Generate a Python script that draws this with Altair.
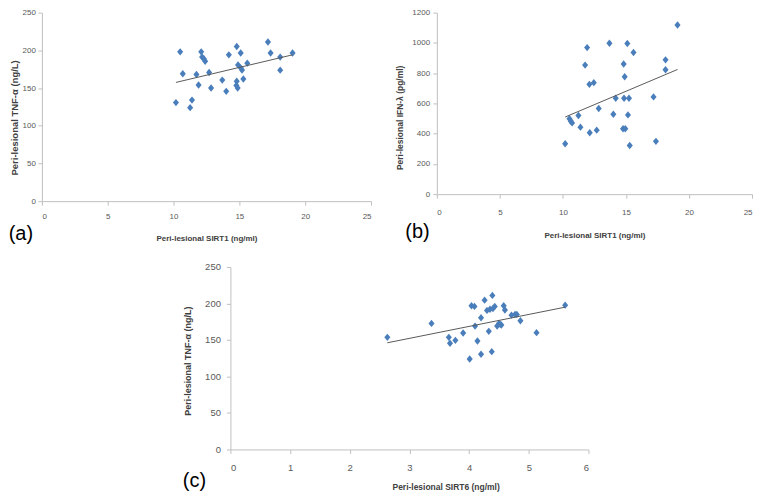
import altair as alt
import pandas as pd

# ---- data ----
sirt1_a = [10.18, 10.5, 10.7, 11.26, 11.4, 11.74, 11.9, 12.1, 12.17, 12.3, 12.4, 12.7, 12.85,
           13.7, 14.0, 14.2, 14.8, 14.8, 14.77, 14.87, 14.9, 15.1, 15.1, 15.2, 15.3, 15.6,
           17.17, 17.37, 18.1, 18.1, 19.04]
tnf_a = [130.7, 198, 169, 124, 134, 168, 154, 198, 191, 189, 185.5, 170.6, 150,
         160.5, 145.6, 194, 205, 159, 153.5, 150, 180.7, 196.5, 176.8, 174, 162, 183,
         211, 196.5, 191, 173.7, 196.5]

sirt1_b = [10.18, 10.52, 10.63, 10.73, 11.23, 11.39, 11.76, 11.92, 12.1, 12.13, 12.45, 12.68,
           12.84, 13.69, 14.0, 14.19, 14.77, 14.82, 14.85, 14.9, 14.95, 15.11, 15.16, 15.24,
           15.3, 15.6, 17.19, 17.38, 18.14, 18.14, 19.09]
ifn_b = [333, 498, 482, 471, 520, 443, 853, 969, 726, 406, 737, 423,
         566, 998, 528, 634, 432, 860, 634, 776, 432, 996, 524, 634,
         322, 936, 643, 349, 888, 822, 1118]

sirt6_c = [2.63, 3.37, 3.66, 3.68, 3.77, 3.90, 4.01, 4.04, 4.09, 4.10, 4.14, 4.20, 4.20,
           4.26, 4.30, 4.33, 4.35, 4.38, 4.39, 4.40, 4.43, 4.47, 4.50, 4.52, 4.54, 4.58,
           4.60, 4.71, 4.77, 4.80, 4.86, 5.13, 5.61]
tnf_c = [153.6, 172.7, 153.6, 145.5, 149.5, 159.5, 124, 196.8, 196, 169, 148.6, 130.5, 180.5,
         204.5, 190.5, 161.8, 192, 134, 211, 193, 196, 169, 172.7, 171.4, 170.5, 196.8,
         191, 184, 185, 185, 176.4, 160, 197.7]

x_ticks_ab = [0, 5, 10, 15, 20, 25]
x_ticks_c = [0, 1, 2, 3, 4, 5, 6]
y_ticks_tnf = [0, 50, 100, 150, 200, 250]
y_ticks_ifn = [0, 200, 400, 600, 800, 1000, 1200]

FONT = "Liberation Sans"
DIAMOND = "M-0.82,0L0,-1L0.82,0L0,1Z"
BLUE = "#4a7ebb"


def panel(xs, ys, xdom, xticks, ydom, yticks, w, h, xtitle, ytitle, tag, tag_x, tag_y,
          x_lpad, x_tpad, y_lpad, y_tpad, y_title_y, label_size, xt_size, yt_size,
          x_title_x=None):
    df = pd.DataFrame({"x": xs, "y": ys})
    xaxis_kw = dict(values=xticks, title=xtitle, labelPadding=x_lpad, titlePadding=x_tpad,
                    format="d", labelOverlap=False, labelFontSize=label_size,
                    titleFontSize=xt_size)
    if x_title_x is not None:
        xaxis_kw["titleX"] = x_title_x
    xenc = alt.X("x:Q", scale=alt.Scale(domain=xdom, nice=False, zero=False),
                 axis=alt.Axis(**xaxis_kw))
    yenc = alt.Y("y:Q", scale=alt.Scale(domain=ydom, nice=False, zero=False),
                 axis=alt.Axis(values=yticks, title=ytitle, labelPadding=y_lpad,
                               titlePadding=y_tpad, titleY=y_title_y, format="d",
                               labelOverlap=False, labelFontSize=label_size,
                               titleFontSize=yt_size))
    pts = alt.Chart(df).mark_point(shape=DIAMOND, filled=True, size=55, color=BLUE,
                                   opacity=1).encode(x=xenc, y=yenc)
    line = alt.Chart(df).transform_regression("x", "y").mark_line(
        color="#5a5a5a", strokeWidth=1).encode(x=xenc, y=yenc)
    lbl = alt.Chart(pd.DataFrame({"t": [tag]})).mark_text(
        font="Liberation Sans", fontSize=20, color="black", align="left",
        baseline="alphabetic").encode(text="t:N", x=alt.value(tag_x), y=alt.value(tag_y))
    return alt.layer(pts, line, lbl).properties(width=w, height=h)


pa = panel(sirt1_a, tnf_a, [0, 25], x_ticks_ab, [0, 250], y_ticks_tnf, 330, 189,
           "Peri-lesional SIRT1 (ng/ml)", "Peri-lesional TNF-α (ng/L)", "(a)", -33.3, 227.7,
           7, 14, 2.6, 3, 105, 8, 8, 9.5)
pb = panel(sirt1_b, ifn_b, [0, 25], x_ticks_ab, [0, 1200], y_ticks_ifn, 316, 182,
           "Peri-lesional SIRT1 (ng/ml)", "Peri-lesional IFN-λ (pg/ml)", "(b)", -31.6, 225.7,
           10, 15, 3.3, 7, 105, 8, 8, 8.5)
pc = panel(sirt6_c, tnf_c, [0, 6], x_ticks_c, [0, 250], y_ticks_tnf, 359, 183,
           "Peri-lesional SIRT6 (ng/ml)", "Peri-lesional TNF-α (ng/L)", "(c)", -47.7, 220.3,
           8.8, 11, 6, 12.5, 94, 9.5, 8.5, 9, x_title_x=215.8)

spacer = alt.Chart(pd.DataFrame({"v": [0]})).mark_point(opacity=0).encode(
    x=alt.value(0), y=alt.value(0)).properties(width=189, height=183)

row1 = alt.hconcat(pa, pb, spacing=66, bounds="flush")
row2 = alt.hconcat(spacer, pc, spacing=0, bounds="flush")

chart = alt.vconcat(row1, row2, spacing=18, bounds="full").properties(
    padding={"left": 0, "top": 0, "right": 0, "bottom": 0}
).configure_view(stroke=None).configure_axis(
    grid=False,
    domainColor="#c0c0c0",
    tickColor="#c0c0c0",
    tickSize=4,
    labelFont=FONT,
    labelColor="#595959",
    titleFont=FONT,
    titleFontWeight="bold",
    titleColor="#404040",
)

chart.save("out.html", embed_options={"renderer": "svg", "actions": False})
